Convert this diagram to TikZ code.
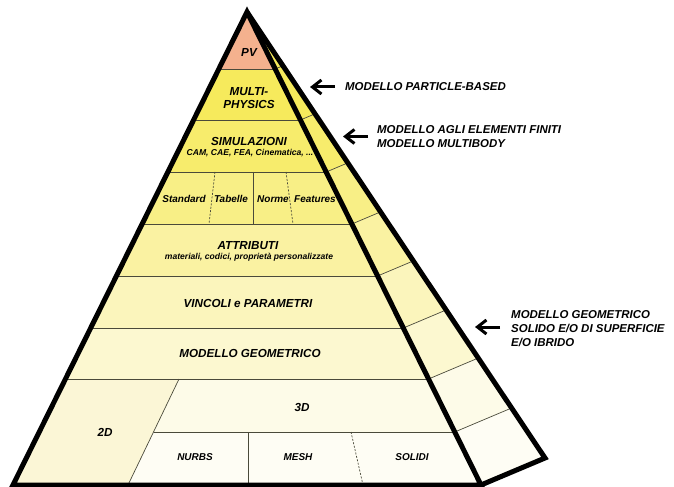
\documentclass[tikz,border=0pt]{standalone}
\usepackage{fontspec}
\setmainfont{Liberation Sans}
\usetikzlibrary{calc,arrows.meta}

% layer colours, from the tip down
\definecolor{cPV}{HTML}{F4B18E}
\definecolor{cMP}{HTML}{F6EA5C}
\definecolor{cSI}{HTML}{F7EC6C}
\definecolor{cST}{HTML}{F8EF86}
\definecolor{cAT}{HTML}{FAF2A2}
\definecolor{cVI}{HTML}{FBF5BC}
\definecolor{cMG}{HTML}{FCF8D0}
\definecolor{cTD}{HTML}{FBF6D6}
\definecolor{cTH}{HTML}{FDFBE8}
\definecolor{cBO}{HTML}{FEFDF4}
\definecolor{cLine}{HTML}{4A4A3A}

\tikzset{
  outline/.style={line width=5bp, black, line join=miter, miter limit=20},
  thinline/.style={line width=0.7bp, cLine},
  dashline/.style={line width=0.7bp, cLine, dash pattern=on 2bp off 1.5bp},
  biglab/.style={font=\fontsize{11.7}{13.5}\selectfont\bfseries\itshape, inner sep=0, align=center},
  midlab/.style={font=\fontsize{10}{12}\selectfont\bfseries\itshape, inner sep=0},
  smalllab/.style={font=\fontsize{8.6}{10}\selectfont\bfseries\itshape, inner sep=0},
  sidelab/.style={font=\fontsize{11.5}{14}\selectfont\bfseries\itshape, inner sep=0, align=left, anchor=west},
  pointer/.style={line width=3bp, -{Straight Barb[length=9bp,width=14bp]}}
}

\begin{document}
\begin{tikzpicture}[x=1bp,y=-1bp]
\useasboundingbox (0,0) rectangle (674,487);

% corners of the pyramid
\coordinate (A)  at (247,12);
\coordinate (BL) at (13,485);
\coordinate (BR) at (481,485);
\coordinate (S)  at (545,458);

% front face, one band per layer
\begin{scope}
  \clip (A) -- (BL) -- (BR) -- cycle;
  \fill[cPV] (0,0)   rectangle (674,69);
  \fill[cMP] (0,69)  rectangle (674,120);
  \fill[cSI] (0,120) rectangle (674,172);
  \fill[cST] (0,172) rectangle (674,224);
  \fill[cAT] (0,224) rectangle (674,276);
  \fill[cVI] (0,276) rectangle (674,328);
  \fill[cMG] (0,328) rectangle (674,379);
  \fill[cTD] (0,379) -- (179,379) -- (128,485) -- (0,485) -- cycle;
  \fill[cTH] (179,379) -- (674,379) -- (674,432) -- (154,432) -- cycle;
  \fill[cBO] (154,432) -- (674,432) -- (674,486) -- (128,486) -- cycle;
  % layer boundaries
  \foreach \yy in {69,120,172,224,276,328,379}
    \draw[thinline] (0,\yy) -- (674,\yy);
  % subdivisions of the base layer
  \draw[thinline] (179,379) -- (128,485);
  \draw[thinline] (154,432) -- (674,432);
  \draw[thinline] (248,432) -- (248,485);
  \draw[dashline] (351,432) -- (363,485);
  % subdivisions of the standard/tabelle row
  \draw[dashline] (215,172) -- (209,224);
  \draw[thinline] (253,172) -- (253,224);
  \draw[dashline] (286,172) -- (293,224);
\end{scope}

% side face, banded like the front
\foreach \ta/\tb/\cc in {0/0.1205/cMP, 0.1205/0.2283/cMP, 0.2283/0.3383/cSI,
    0.3383/0.4482/cST, 0.4482/0.5581/cAT, 0.5581/0.6681/cVI,
    0.6681/0.7759/cMG, 0.7759/0.8879/cTH, 0.8879/1/cBO}
  \fill[\cc] ($(A)!\ta!(BR)$) -- ($(A)!\ta!(S)$) -- ($(A)!\tb!(S)$) -- ($(A)!\tb!(BR)$) -- cycle;
\foreach \t in {0.1205,0.2283,0.3383,0.4482,0.5581,0.6681,0.7759,0.8879}
  \draw[thinline] ($(A)!\t!(BR)$) -- ($(A)!\t!(S)$);

% heavy outline
\draw[outline] (A) -- (BL) -- (BR) -- cycle;
\draw[outline] (A) -- (S) -- (BR);

% layer labels
\node[biglab] (pv) at (249,52) {PV};
\node[biglab] (mp) at (249,98) {MULTI-\\[-0.5bp]PHYSICS};
\node[biglab] (si) at (249,141) {SIMULAZIONI};
\node[smalllab] (sis) at (250,153) {CAM, CAE, FEA, Cinematica, ...};
\node[midlab] (st) at (184,199) {Standard};
\node[midlab] (ta) at (231,199) {Tabelle};
\node[midlab] (no) at (273,199) {Norme};
\node[midlab] (fe) at (315,199) {Features};
\node[biglab] (at) at (248,246) {ATTRIBUTI};
\node[smalllab] (ats) at (249,257) {materiali, codici, propriet\`a personalizzate};
\node[biglab] (vi) at (248,303) {VINCOLI e PARAMETRI};
\node[biglab] (mg) at (250,353) {MODELLO GEOMETRICO};
\node[biglab] (d2) at (105,432) {2D};
\node[biglab] (d3) at (302,407) {3D};
\node[midlab] (nu) at (195,457) {NURBS};
\node[midlab] (me) at (298,457) {MESH};
\node[midlab] (so) at (412,457) {SOLIDI};

% notes on the right with their pointers
\node[sidelab] (n1) at (345,87) {MODELLO PARTICLE-BASED};
\node[sidelab] (n2) at (377,136.5) {MODELLO AGLI ELEMENTI FINITI\\MODELLO MULTIBODY};
\node[sidelab] (n3) at (511,329) {MODELLO GEOMETRICO\\SOLIDO E/O DI SUPERFICIE\\E/O IBRIDO};
\coordinate (p1) at (310,87);
\coordinate (p2) at (343,136.5);
\coordinate (p3) at (475,327);
\draw[pointer] ([xshift=-10bp]n1.west) -- (p1);
\draw[pointer] ([xshift=-9bp]n2.west) -- (p2);
\draw[pointer] ([xshift=-11bp]n3.west |- p3) -- (p3);
\end{tikzpicture}
\end{document}
